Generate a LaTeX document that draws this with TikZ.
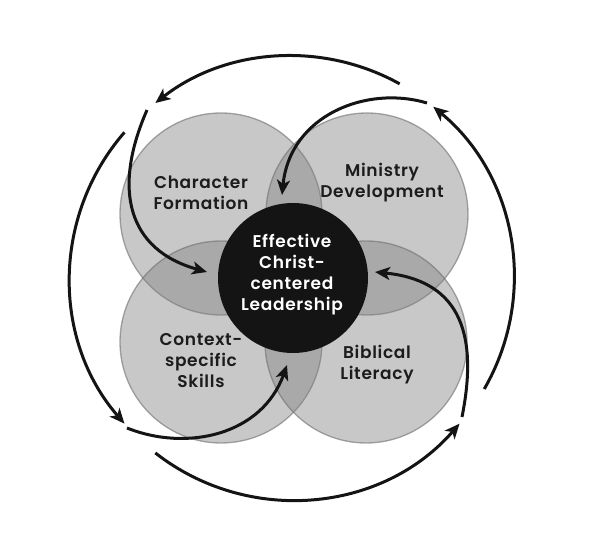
\documentclass[tikz,border=0pt]{standalone}
\usepackage{fontspec}
\setmainfont{Poppins}[BoldFont={Poppins SemiBold}, BoldFeatures={LetterSpace=4}]
\usetikzlibrary{arrows.meta,calc}
\definecolor{vfill}{RGB}{129,129,129}
\definecolor{vline}{RGB}{110,110,110}
\definecolor{core}{RGB}{20,20,20}
\definecolor{ink}{RGB}{28,28,28}
\begin{document}
\begin{tikzpicture}[x=1pt,y=1pt,
  venn/.style={circle, minimum size=202pt, inner sep=0pt, fill=vfill, fill opacity=0.44, draw=vline, draw opacity=0.6, line width=1.3pt},
  lbl/.style={align=center, text=ink, font=\bfseries\fontsize{17}{21}\selectfont, inner sep=0pt},
  flow/.style={line width=3pt, draw=core, -{Stealth[length=15pt,width=13pt,inset=4pt]}}]
\useasboundingbox (0,0) rectangle (600,543);
% circles
\node[venn] (cf) at (221,329) {};
\node[venn] (md) at (367,329) {};
\node[venn] (cs) at (221,201) {};
\node[venn] (bl) at (366,201) {};
\node[circle, minimum size=150pt, inner sep=0pt, fill=core] (core) at (293,265) {};
% labels
\node[lbl] (tcf) at (201,350) {Character\\Formation};
\node[lbl] (tmd) at (382,360) {Ministry\\Development};
\node[lbl, text=white] (tcore) at (292,268) {Effective\\Christ-\\centered\\Leadership};
\node[lbl] (tcs) at (201,182) {Context-\\specific\\Skills};
\node[lbl] (tbl) at (377,178) {Biblical\\Literacy};
% ring centre
\coordinate (rc) at (292,265);
% outer arrows
\draw[flow] ($(rc)+(61:222)$) arc[start angle=61, end angle=128, radius=222];
\draw[flow] ($(rc)+(139:222)$) arc[start angle=139, end angle=221, radius=222];
\draw[flow] ($(rc)+(232:222)$) arc[start angle=232, end angle=319, radius=222];
\draw[flow] ($(rc)+(330:222)$) arc[start angle=330, end angle=410.5, radius=222];
% inner arrows
\coordinate (h0) at (147,433); \coordinate (h1) at (207,271);
\coordinate (b0) at (427,440); \coordinate (b1) at (282,348);
\coordinate (d0) at (462,126); \coordinate (d1) at (375,271);
\coordinate (f0) at (127,115); \coordinate (f1) at (287,178);
\draw[flow] (h0) .. controls (112,353) and (128,293) .. (h1);
\draw[flow] (b0) .. controls (367,458) and (290,428) .. (b1);
\draw[flow] (d0) .. controls (480,216) and (455,263) .. (d1);
\draw[flow] (f0) .. controls (187,91) and (262,108) .. (f1);
\end{tikzpicture}
\end{document}
